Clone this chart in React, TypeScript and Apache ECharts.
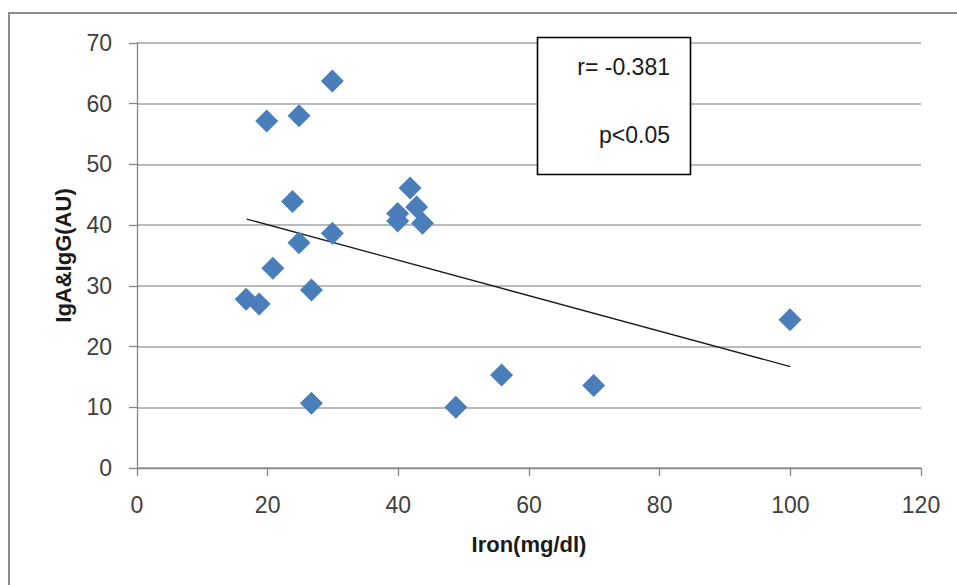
import React, { useEffect, useRef } from "react";
import * as echarts from "echarts";

// Iron (mg/dl) vs IgA&IgG (AU)
const ironValues = [
  29.9, 19.85, 24.8, 23.8, 41.8, 42.8, 39.9, 39.9, 43.7, 29.9,
  24.8, 20.8, 16.7, 18.7, 26.7, 26.7, 48.8, 55.8, 69.9, 99.95,
];
const igValues = [
  63.75, 57.15, 58.0, 43.9, 46.1, 43.0, 41.9, 40.7, 40.3, 38.65,
  37.1, 32.9, 27.8, 27.0, 29.3, 10.65, 10.0, 15.3, 13.6, 24.4,
];
// trend line end points
const trendX = [16.8, 100.0];
const trendY = [41.0, 16.7];

const xTicks = { min: 0, max: 120, interval: 20 };
const yTicks = { min: 0, max: 70, interval: 10 };

const annotationLines = ["r= -0.381", "p<0.05"];

const FONT = "Liberation Sans";

export default function App() {
  const ref = useRef<HTMLDivElement>(null);

  useEffect(() => {
    if (!ref.current) return;
    const chart = echarts.init(ref.current, null, { renderer: "svg" });
    const points = ironValues.map((x, i) => [x, igValues[i]]);
    const trend = trendX.map((x, i) => [x, trendY[i]]);

    chart.setOption({
      animation: false,
      backgroundColor: "#ffffff",
      grid: { left: 137, right: 36, top: 43, bottom: 117, containLabel: false },
      xAxis: {
        type: "value",
        min: xTicks.min,
        max: xTicks.max,
        interval: xTicks.interval,
        name: "Iron(mg/dl)",
        nameLocation: "middle",
        nameGap: 65,
        nameTextStyle: { fontFamily: FONT, fontSize: 22, fontWeight: "bold", color: "#1a1a1a" },
        axisLine: { show: true, onZero: false, lineStyle: { color: "#868686", width: 1.3 } },
        axisTick: { show: true, length: 8, lineStyle: { color: "#868686", width: 1.3 } },
        axisLabel: { fontFamily: FONT, fontSize: 23, color: "#404040", margin: 25 },
        splitLine: { show: false },
      },
      yAxis: {
        type: "value",
        min: yTicks.min,
        max: yTicks.max,
        interval: yTicks.interval,
        name: "IgA&IgG(AU)",
        nameLocation: "middle",
        nameGap: 63,
        nameTextStyle: { fontFamily: FONT, fontSize: 22, fontWeight: "bold", color: "#1a1a1a" },
        axisLine: { show: true, onZero: false, lineStyle: { color: "#868686", width: 1.3 } },
        axisTick: { show: true, length: 8, lineStyle: { color: "#868686", width: 1.3 } },
        axisLabel: { fontFamily: FONT, fontSize: 23, color: "#404040", margin: 25 },
        splitLine: { show: true, lineStyle: { color: "#a3a3a3", width: 1.5 } },
      },
      series: [
        {
          type: "line",
          data: trend,
          symbol: "none",
          lineStyle: { color: "#1a1a1a", width: 1.3 },
          z: 3,
        },
        {
          type: "scatter",
          data: points,
          symbol: "diamond",
          symbolSize: 23,
          itemStyle: { color: "#4a7ebb", opacity: 1 },
          z: 4,
        },
      ],
      graphic: [
        {
          type: "polyline",
          shape: { points: [[9, 620], [9, 13], [1000, 13]] },
          style: { fill: "none", stroke: "#8c8c8c", lineWidth: 2 },
          silent: true,
          z: 10,
        },
        {
          type: "rect",
          shape: { x: 537.5, y: 37.5, width: 153, height: 137 },
          style: { fill: "#ffffff", stroke: "#000000", lineWidth: 1.6 },
          z: 20,
        },
        {
          type: "text",
          x: 670,
          y: 67,
          style: {
            text: annotationLines[0],
            fontFamily: FONT,
            fontSize: 23,
            fill: "#1a1a1a",
            align: "right",
            verticalAlign: "middle",
          },
          z: 21,
        },
        {
          type: "text",
          x: 670,
          y: 135,
          style: {
            text: annotationLines[1],
            fontFamily: FONT,
            fontSize: 23,
            fill: "#1a1a1a",
            align: "right",
            verticalAlign: "middle",
          },
          z: 21,
        },
      ],
    });

    return () => chart.dispose();
  }, []);

  return (
    <div
      ref={ref}
      style={{ position: "fixed", left: 0, top: 0, width: 957, height: 585 }}
    />
  );
}
